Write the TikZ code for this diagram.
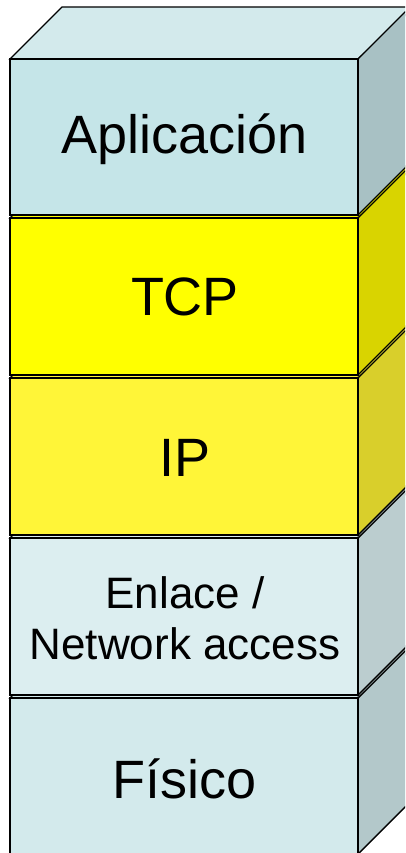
\documentclass[tikz,border=0pt]{standalone}
\usepackage{fontspec}
\setmainfont{Liberation Sans}
\definecolor{appF}{HTML}{C5E5E8}
\definecolor{appT}{HTML}{D3EAEC}
\definecolor{appS}{HTML}{A8C1C4}
\definecolor{tcpF}{HTML}{FFFF00}
\definecolor{tcpS}{HTML}{D9D400}
\definecolor{ipF}{HTML}{FFF538}
\definecolor{ipS}{HTML}{D9CF2B}
\definecolor{enlF}{HTML}{DCEEF0}
\definecolor{enlS}{HTML}{BBCDCF}
\definecolor{fisF}{HTML}{D3EAEC}
\definecolor{fisS}{HTML}{B3C8CA}
\newcommand{\layerbox}[5]{%
  % #1 top y, #2 bottom y, #3 front, #4 side, #5 top colour
  \filldraw[boxline,fill=#5] (10,#1) -- (62,#1-52) -- (414,#1-52) -- (358,#1) -- cycle;
  \filldraw[boxline,fill=#4] (358,#1) -- (410,#1-52) -- (410,#2-52) -- (358,#2) -- cycle;
  \filldraw[boxline,fill=#3] (10,#1) rectangle (358,#2);
}
\begin{document}
\begin{tikzpicture}[x=1pt,y=-1pt,
  boxline/.style={draw=black,line width=1.4pt,line join=miter},
  label/.style={font=\fontsize{54}{62}\selectfont,text=black,inner sep=0pt,align=center}]
\useasboundingbox (0,0) rectangle (405,853);
\clip (0,0) rectangle (405,853);
\layerbox{698}{854}{fisF}{fisS}{fisF}
\layerbox{538}{695}{enlF}{enlS}{enlF}
\layerbox{378}{535}{ipF}{ipS}{ipF}
\layerbox{218}{375}{tcpF}{tcpS}{tcpF}
\layerbox{59}{215}{appF}{appS}{appT}
\node[label] (app) at (185,139) {Aplicación};
\node[label] (tcp) at (185,297) {TCP};
\node[label] (ip) at (185,458) {IP};
\node[label,font=\fontsize{44}{51}\selectfont] (enl) at (185,618) {Enlace /\\Network access};
\node[label] (fis) at (185,779) {Físico};
\end{tikzpicture}
\end{document}
